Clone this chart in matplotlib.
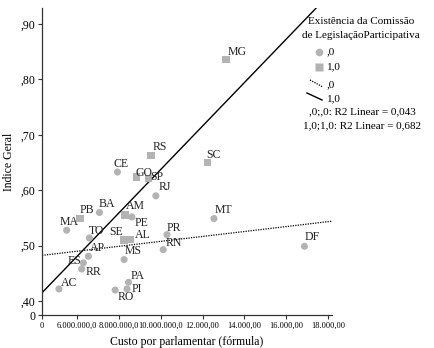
import matplotlib
matplotlib.use('Agg')
import matplotlib.pyplot as plt
import matplotlib.transforms as mtransforms
import numpy as np
from matplotlib.lines import Line2D

# data (custo em milhões, índice)
states = ['MG', 'SC', 'RS', 'GO', 'SP', 'PB', 'AM', 'SE', 'AL',
          'CE', 'RJ', 'BA', 'PE', 'MA', 'TO', 'PR', 'RN', 'AP', 'MS',
          'ES', 'RR', 'PA', 'PI', 'RO', 'AC', 'MT', 'DF']
custo = [13.13, 12.23, 9.52, 8.84, 9.41, 6.14, 8.29, 8.24, 8.53,
         7.92, 9.76, 7.06, 8.61, 5.49, 6.58, 10.29, 10.11, 6.53, 8.24,
         6.29, 6.21, 8.45, 8.38, 7.81, 5.12, 12.54, 16.87]
indice = [0.836, 0.650, 0.663, 0.624, 0.621, 0.549, 0.555, 0.510, 0.511,
          0.633, 0.590, 0.560, 0.552, 0.528, 0.514, 0.520, 0.493, 0.481, 0.475,
          0.469, 0.458, 0.434, 0.422, 0.420, 0.422, 0.549, 0.499]
comissao = [1, 1, 1, 1, 1, 1, 1, 1, 1,
            0, 0, 0, 0, 0, 0, 0, 0, 0, 0,
            0, 0, 0, 0, 0, 0, 0, 0]

xticks = [6, 8, 10, 12, 14, 16, 18]
xticklabels = ['6.000.000,0', '8.000.000,0', '10.000.000,0', '12.000,00',
               '14.000,00', '16.000,00', '18.000,00']
yticks = [0.40, 0.50, 0.60, 0.70, 0.80, 0.90]
yticklabels = [',40', ',50', ',60', ',70', ',80', ',90']

# label offsets in pixels (dx right, dy down)
offsets = {'MG': (11, -8), 'SC': (6, -8), 'RS': (9, -8), 'GO': (7, -4),
           'SP': (8, -2), 'PB': (7, -9), 'AM': (10, -9), 'SE': (-8, -8),
           'AL': (13, -5), 'CE': (4, -8), 'RJ': (9, -9), 'BA': (7, -8),
           'PE': (10, 6), 'MA': (2, -8), 'TO': (7, -7), 'PR': (7, -7),
           'RN': (11, -7), 'AP': (9, -8), 'MS': (9, -9), 'ES': (-9, -2),
           'RR': (12, 3), 'PA': (9, -6), 'PI': (10, 0), 'RO': (11, 7),
           'AC': (10, -6), 'MT': (9, -9), 'DF': (8, -9)}

plt.rcParams['font.family'] = ['Liberation Serif', 'DejaVu Serif']

W, H = 434, 348
fig = plt.figure(figsize=(W / 100, H / 100), dpi=100)
ax = fig.add_axes([42 / W, 1 - 315 / H, 290 / W, 307 / H])

x = np.array(custo)
y = np.array(indice)
c = np.array(comissao)
gray = '#b3b3b3'

ax.scatter(x[c == 0], y[c == 0], s=26, marker='o', color=gray,
           edgecolors='none', zorder=3)
ax.scatter(x[c == 1], y[c == 1], s=30, marker='s', color=gray,
           edgecolors='none', zorder=3)

xmin, xmax = 4.31, 18.19
ymin, ymax = 0.375, 0.929
xx = np.array([xmin, xmax])
p0 = np.polyfit(x[c == 0], y[c == 0], 1)
p1 = np.polyfit(x[c == 1], y[c == 1], 1)
ax.plot(xx, np.polyval(p0, xx), color='black', lw=0.9, ls=(0, (1, 1)))
ax.plot(xx, np.polyval(p1, xx), color='black', lw=1.0)

for s, xi, yi in zip(states, custo, indice):
    dx, dy = offsets[s]
    ax.annotate(s, (xi, yi), xytext=(dx * 0.72, -dy * 0.72),
                textcoords='offset points', ha='center', va='center',
                fontsize=8.5, color='#222222', zorder=4)

ax.set_xlim(xmin, xmax)
ax.set_ylim(ymin, ymax)
ax.set_xticks([xmin] + xticks)
ax.set_xticklabels(['0'] + xticklabels, fontsize=6)
# first labels are nudged left in the original to avoid crowding
labs = ax.get_xticklabels()
for lab, shift in [(labs[1], -10), (labs[2], -6)]:
    lab.set_transform(lab.get_transform() + mtransforms.ScaledTranslation(
        shift / 100, 0, fig.dpi_scale_trans))
ax.set_yticks([ymin] + yticks)
ax.set_yticklabels(['0'] + yticklabels, fontsize=8.5)
ax.tick_params(length=3, width=0.8, pad=2, color='#333333')
ax.spines['top'].set_visible(False)
ax.spines['right'].set_visible(False)
for sp in ['left', 'bottom']:
    ax.spines[sp].set_linewidth(0.9)
    ax.spines[sp].set_color('#333333')
ax.set_xlabel('Custo por parlamentar (fórmula)', fontsize=8.5, labelpad=4)
ax.set_ylabel('Indice Geral', fontsize=8.5, labelpad=4)


def fx(px):
    return px / W


def fy(py):
    return 1 - py / H


# legend drawn by hand
fig.text(fx(361), fy(22), 'Existência da Comissão', ha='center', va='center',
         fontsize=8)
fig.text(fx(361), fy(35), 'de LegislaçãoParticipativa', ha='center',
         va='center', fontsize=8)
fig.add_artist(Line2D([fx(319)], [fy(52)], marker='o', ms=5.5, color=gray,
                      mec='none', ls='none'))
fig.text(fx(327), fy(52), ',0', va='center', fontsize=8)
fig.add_artist(Line2D([fx(319)], [fy(67)], marker='s', ms=5.5, color=gray,
                      mec='none', ls='none'))
fig.text(fx(327), fy(67), '1,0', va='center', fontsize=8)
fig.add_artist(Line2D([fx(310), fx(323)], [fy(80), fy(87)], color='black',
                      lw=0.9, ls=(0, (1, 1))))
fig.text(fx(327), fy(85), ',0', va='center', fontsize=8)
fig.add_artist(Line2D([fx(307), fx(322)], [fy(93), fy(100)], color='black',
                      lw=1.0))
fig.text(fx(327), fy(99), '1,0', va='center', fontsize=8)
fig.text(fx(362), fy(112), ',0;,0: R2 Linear = 0,043', ha='center',
         va='center', fontsize=8)
fig.text(fx(362), fy(126), '1,0;1,0: R2 Linear = 0,682', ha='center',
         va='center', fontsize=8)

fig.savefig('out.png', dpi=100)
